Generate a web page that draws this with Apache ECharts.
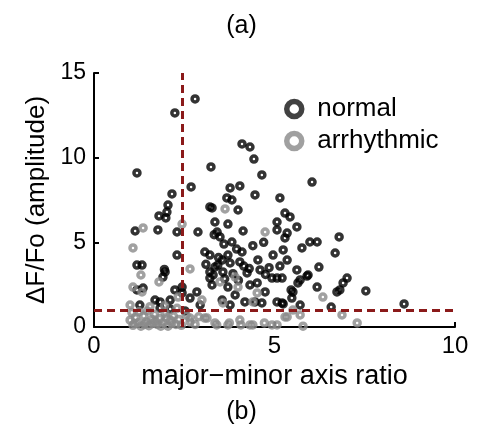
<!DOCTYPE html>
<html><head><meta charset="utf-8">
<script src="https://cdn.jsdelivr.net/npm/echarts@6/dist/echarts.min.js"></script>
<style>html,body{margin:0;padding:0;background:#fff}#c{width:483px;height:437px}</style>
</head><body><div id="c"></div>
<script>
const xTicks = [0, 5, 10];
const yTicks = [0, 5, 10, 15];
const thresholdX = 2.45;
const thresholdY = 1.0;
const normalPts = [
[2.80,13.47],[2.24,12.64],[1.19,9.10],[4.10,10.81],[4.32,10.63],[4.43,9.92],[3.24,9.45],[4.65,8.98],
[6.04,8.56],[2.69,8.27],[2.16,7.86],[3.77,8.21],[4.04,8.33],[4.46,7.80],[5.15,7.62],[3.68,7.62],
[3.82,7.50],[3.21,7.09],[3.99,6.91],[3.27,7.03],[5.29,6.73],[5.43,6.50],[5.07,6.20],[5.62,5.91],
[3.35,6.20],[3.71,6.08],[4.13,5.67],[5.07,5.73],[5.35,5.55],[3.41,5.61],[1.80,6.56],[2.02,6.79],
[1.99,6.44],[1.14,5.67],[1.77,5.73],[2.30,5.61],[2.88,5.61],[2.30,4.25],[3.07,4.43],[3.21,4.25],
[1.19,3.66],[1.33,3.66],[1.97,3.25],[1.91,2.95],[3.21,3.25],[3.35,3.54],[3.21,2.89],[1.19,2.19],
[1.36,2.30],[1.69,1.59],[1.83,1.48],[2.44,2.36],[2.44,2.01],[2.85,2.07],[2.66,1.71],[1.27,1.30],
[3.49,5.32],[5.29,5.26],[5.98,5.02],[6.18,5.02],[3.82,5.02],[4.10,4.43],[3.71,4.25],[3.43,3.66],
[3.77,3.78],[4.54,3.96],[4.96,4.25],[5.24,4.55],[5.76,4.67],[4.60,3.37],[4.24,3.19],[3.57,3.25],
[3.30,3.07],[3.27,2.48],[3.71,2.36],[4.52,2.60],[4.74,2.07],[4.93,2.89],[5.07,2.89],[5.21,2.89],
[5.62,3.37],[5.93,3.07],[5.65,2.60],[5.51,2.07],[5.48,1.71],[5.07,1.48],[5.21,1.42],[4.18,1.48],
[4.46,1.48],[4.65,1.42],[5.71,1.30],[6.79,5.32],[6.68,4.37],[6.23,3.54],[5.71,2.78],[5.90,3.01],
[7.01,2.89],[6.90,2.60],[6.18,2.36],[6.73,2.07],[6.81,2.19],[5.46,2.19],[7.53,2.13],[5.24,1.36],
[6.57,1.18],[8.59,1.36],[4.04,3.84],[4.32,2.48],[3.91,1.89],[3.55,1.59],[2.11,1.59],[2.24,2.19],
[2.94,1.30],[3.77,1.30],[2.11,1.06],[2.52,0.95],[1.83,1.12],[4.85,3.50],[4.40,4.80],[3.95,4.60],
[3.60,4.90],[4.70,5.00],[3.10,3.70],[2.05,7.20],[1.95,3.40],[3.45,4.10],[3.55,3.95],[4.15,3.60],
[4.30,3.45],[3.85,3.15],[4.00,2.75],[3.62,2.85],[5.35,3.95],[5.15,3.60],[4.75,3.10],[3.33,5.45]
];
const arrhythmicPts = [
[1.36,5.85],[2.44,6.08],[3.63,6.97],[4.74,5.61],[1.08,4.67],[1.30,3.07],[1.80,2.66],[2.66,3.43],
[1.08,2.36],[1.33,2.07],[2.99,1.59],[1.00,1.30],[2.33,1.77],[3.91,2.95],[3.49,2.66],[3.99,2.36],
[4.52,2.01],[4.40,1.48],[3.57,1.42],[5.71,0.71],[5.35,0.59],[6.34,1.77],[6.87,0.71],[7.29,0.24],
[5.79,0.05],[5.07,0.12],[5.29,0.59],[5.51,1.00],[2.66,0.30],[3.13,0.53],[4.04,0.41],[4.32,0.12],
[4.93,0.12],[3.71,0.12],[3.35,0.24],[2.66,0.53],[3.07,0.53],[3.40,0.12],[3.75,0.24],[4.07,0.12],
[4.40,0.12],[4.72,0.24],[1.00,0.40],[1.08,0.10],[1.15,0.55],[1.22,0.25],[1.30,0.05],[1.38,0.65],
[1.45,0.30],[1.52,0.08],[1.60,0.45],[1.68,0.75],[1.75,0.15],[1.82,0.50],[1.90,0.25],[1.97,0.80],
[2.05,0.05],[2.12,0.40],[2.20,0.65],[2.27,0.15],[2.35,0.45],[2.42,0.10],[2.55,0.70],[1.05,0.85],
[1.25,0.90],[1.48,0.95],[1.70,0.35],[2.00,0.55],[1.12,0.20],[1.40,0.15],[1.62,0.20],[1.85,0.05],
[2.15,0.20],[2.80,0.15],[2.90,0.60],[1.95,1.25],[2.30,1.10],[1.55,1.20]
];

const chart = echarts.init(document.getElementById('c'), null, {renderer:'canvas'});
const FONT = 'Liberation Sans, Arial, sans-serif';
const ringStyle = (c) => ({color: 'rgba(0,0,0,0)', borderColor: c, borderWidth: 3.5});
chart.setOption({
  animation: false,
  title: [
    {text: '(a)', left: 'center', top: 9, textStyle: {fontFamily: FONT, fontSize: 25, fontWeight: 'normal', color: '#000'}},
    {text: '(b)', left: 'center', top: 395, textStyle: {fontFamily: FONT, fontSize: 25, fontWeight: 'normal', color: '#000'}}
  ],
  grid: {left: 94, right: 28, top: 73, bottom: 110, containLabel: false},
  legend: {
    orient: 'vertical', left: 279, top: 91, itemGap: 6, itemWidth: 36, itemHeight: 15,
    textStyle: {fontFamily: FONT, fontSize: 26, lineHeight: 26, color: '#000'},
    data: [
      {name: 'normal', icon: 'circle', itemStyle: {color: 'rgba(0,0,0,0)', borderColor: '#111', borderWidth: 5.5}},
      {name: 'arrhythmic', icon: 'circle', itemStyle: {color: 'rgba(0,0,0,0)', borderColor: '#888', borderWidth: 5.5}}
    ]
  },
  xAxis: {
    type: 'value', min: xTicks[0], max: xTicks[xTicks.length-1], interval: 5,
    name: 'major\u2212minor axis ratio', nameLocation: 'middle', nameGap: 24,
    nameTextStyle: {fontFamily: FONT, fontSize: 27, color: '#000'},
    axisLine: {lineStyle: {color: '#000', width: 2}},
    axisTick: {inside: true, length: 5, lineStyle: {color: '#000', width: 2}},
    axisLabel: {fontFamily: FONT, fontSize: 24, color: '#000', margin: 7},
    splitLine: {show: false}
  },
  yAxis: {
    type: 'value', min: yTicks[0], max: yTicks[yTicks.length-1], interval: 5,
    name: '\u0394F/Fo (amplitude)', nameLocation: 'middle', nameGap: 41,
    nameTextStyle: {fontFamily: FONT, fontSize: 26, color: '#000'},
    axisLine: {lineStyle: {color: '#000', width: 2}},
    axisTick: {inside: true, length: 5, lineStyle: {color: '#000', width: 2}},
    axisLabel: {fontFamily: FONT, fontSize: 23, color: '#000', margin: 8},
    splitLine: {show: false}
  },
  series: [
    {name: 'normal', type: 'scatter', data: normalPts, symbol: 'circle', symbolSize: 6, itemStyle: ringStyle('#000'),
     markLine: {silent: true, symbol: 'none', label: {show: false},
       lineStyle: {color: '#8b1a1a', width: 3, type: [8, 5]},
       data: [{xAxis: thresholdX}, {yAxis: thresholdY}]}},
    {name: 'arrhythmic', type: 'scatter', data: arrhythmicPts, symbol: 'circle', symbolSize: 6, itemStyle: ringStyle('#8a8a8a')}
  ]
});
</script></body></html>
